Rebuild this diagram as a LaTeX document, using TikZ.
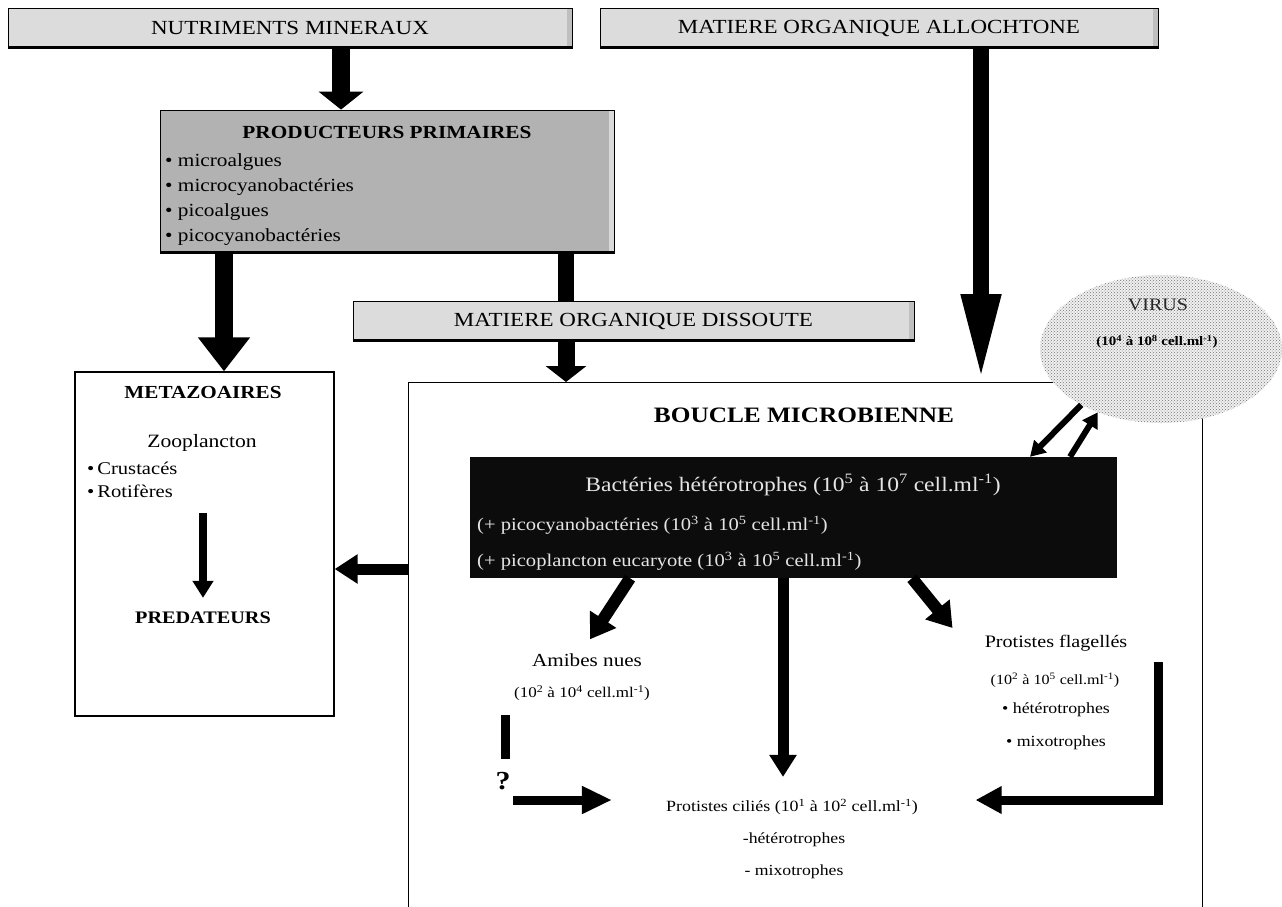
\documentclass[tikz,border=0pt]{standalone}
\usepackage{fontspec}
\setmainfont{Liberation Serif}[FakeStretch=1.15]
\usetikzlibrary{arrows.meta,shapes.geometric,patterns}
\definecolor{hdrgray}{RGB}{220,220,220}
\definecolor{ppgray}{RGB}{178,178,178}
\definecolor{bactbg}{RGB}{12,12,12}
\definecolor{bacttxt}{RGB}{228,228,228}
\newcommand{\fsz}[1]{\fontsize{#1}{#1}\selectfont}
\newcommand{\supr}[1]{\textsuperscript{#1}}
\begin{document}
\begin{tikzpicture}[x=1pt,y=-1pt,
  boxbase/.style={draw=black, line width=0.8pt, inner sep=0pt,
    path picture={\fill[#1] ([xshift=-5pt]path picture bounding box.north east) rectangle (path picture bounding box.south east);
      \draw[line width=4pt] (path picture bounding box.south west) -- (path picture bounding box.south east);}},
  hdr/.style={boxbase=gray!50, fill=hdrgray, font=\fsz{20}},
  ppbox/.style={boxbase=gray!30, fill=ppgray},
  plainbox/.style={draw=black, line width=1.3pt, fill=white, inner sep=0pt},
  item/.style={anchor=west, inner sep=0pt, font=\fsz{18.5}},
  lbl/.style={inner sep=0pt},
  btxt/.style={inner sep=0pt, text=bacttxt},
  arr/.style n args={3}{draw=black, line width=#1, -{Triangle[width=#2,length=#3]}}
]
\useasboundingbox (0,0) rectangle (1282,906);
\fill[white] (0,0) rectangle (1282,906);

% top boxes
\node[hdr, minimum width=564pt, minimum height=40pt] (nutri) at (290,28) {NUTRIMENTS MINERAUX};
\node[hdr, minimum width=558pt, minimum height=40pt] (moa) at (879,28) {MATIERE ORGANIQUE ALLOCHTONE};

% producteurs primaires
\node[ppbox, minimum width=454pt, minimum height=143pt] (pp) at (387,181.5) {};
\node[lbl, font=\bfseries\fsz{18.5}] (pptitle) at (387,132) {PRODUCTEURS PRIMAIRES};
\node[item] (pp1) at (165,162) {\textbullet\ microalgues};
\node[item] (pp2) at (165,187) {\textbullet\ microcyanobactéries};
\node[item] (pp3) at (165,212) {\textbullet\ picoalgues};
\node[item] (pp4) at (165,237) {\textbullet\ picocyanobactéries};

% MOD
\node[hdr, minimum width=561pt, minimum height=40pt] (mod) at (633.5,321) {MATIERE ORGANIQUE DISSOUTE};

% metazoaires
\node[plainbox, minimum width=259pt, minimum height=344pt] (metaz) at (204.5,544) {};
\node[lbl, font=\bfseries\fsz{18.4}] (mztitle) at (203,392) {METAZOAIRES};
\node[lbl, font=\fsz{18.8}] (zoo) at (202,443) {Zooplancton};
\node[item, font=\fsz{17.9}] (crus) at (87,468) {\textbullet\,Crustacés};
\node[item, font=\fsz{17.9}] (rot) at (87,491) {\textbullet\,Rotifères};
\node[lbl, font=\bfseries\fsz{17.6}] (pred) at (203,618) {PREDATEURS};

% boucle microbienne
\node[plainbox, anchor=north west, minimum width=794pt, minimum height=540pt] (boucle) at (408,382) {};
\node[lbl, font=\bfseries\fsz{22}] (bmtitle) at (804,415) {BOUCLE MICROBIENNE};

% virus
\node[ellipse, minimum width=242pt, minimum height=148pt, fill=gray!12,
      postaction={pattern=crosshatch dots, pattern color=black!55}] (virus) at (1161,349) {};
\node[lbl, font=\fsz{17.4}, text=black!85] (vt) at (1158,305) {VIRUS};
\node[lbl, font=\bfseries\fsz{13}] (vc) at (1157,342) {(10\supr{4} à 10\supr{8} cell.ml\supr{-1})};

% bacteries
\node[fill=bactbg, minimum width=647pt, minimum height=121pt, inner sep=0pt] (bact) at (793.5,517.5) {};
\node[btxt, font=\fsz{20.5}] (bt1) at (793,485) {Bactéries hétérotrophes (10\supr{5} à 10\supr{7} cell.ml\supr{-1})};
\node[btxt, anchor=west, font=\fsz{17.9}] (bt2) at (477,525) {(+ picocyanobactéries (10\supr{3} à 10\supr{5} cell.ml\supr{-1})};
\node[btxt, anchor=west, font=\fsz{17.9}] (bt3) at (477,561) {(+ picoplancton eucaryote (10\supr{3} à 10\supr{5} cell.ml\supr{-1})};

% amibes
\node[lbl, font=\fsz{18.4}] (am) at (587,660) {Amibes nues};
\node[lbl, font=\fsz{14.8}] (amc) at (582,693) {(10\supr{2} à 10\supr{4} cell.ml\supr{-1})};

% flagelles
\node[lbl, font=\fsz{17.5}] (fl) at (1056,643) {Protistes flagellés};
\node[lbl, font=\fsz{14}] (flc) at (1055,680) {(10\supr{2} à 10\supr{5} cell.ml\supr{-1})};
\node[lbl, font=\fsz{15.5}] (flh) at (1056,710) {\textbullet\ hétérotrophes};
\node[lbl, font=\fsz{15.5}] (flm) at (1056,743) {\textbullet\ mixotrophes};

% cilies
\node[lbl, font=\fsz{15.6}] (ci) at (792,807) {Protistes ciliés (10\supr{1} à 10\supr{2} cell.ml\supr{-1})};
\node[lbl, font=\fsz{15.4}] (cih) at (794,840) {-hétérotrophes};
\node[lbl, font=\fsz{15.4}] (cim) at (794,872) {- mixotrophes};

% question mark
\node[lbl, font=\bfseries\fsz{26}] (q) at (503,781) {?};

% coordinates for free ends
\coordinate (qa) at (505,715);
\coordinate (qh) at (513,800);
\coordinate (fc) at (1158,662);
\coordinate (b3) at ([xshift=-10.5pt]bact.south);

% arrows
\draw[arr={18pt}{44pt}{18pt}] ([xshift=51pt]nutri.south) -- ([xshift=-46pt]pp.north);
\draw[arr={18pt}{50pt}{34pt}] ([xshift=-163pt]pp.south) -- ([xshift=19.5pt]metaz.north);
\draw[line width=16pt] ([xshift=179pt]pp.south) -- ([xshift=-67.5pt]mod.north);
\draw[arr={17pt}{40pt}{16pt}] ([xshift=-67.5pt]mod.south) -- ([xshift=158pt]boucle.north west);
\draw[arr={16pt}{36pt}{88pt}] ([xshift=102pt]moa.south) -- ([xshift=573pt]boucle.north west);
\draw[arr={11pt}{28pt}{23pt}] ([yshift=-187pt]boucle.north west) -- ([yshift=-25pt]metaz.east);
\draw[arr={8pt}{20pt}{17pt}, shorten <=15pt, shorten >=14pt] (rot.south -| pred.north) -- (pred.north);

\draw[arr={12pt}{30pt}{24pt}] ([xshift=-163.5pt]bact.south) -- ([shift={(3pt,14pt)}]am.north);
\draw[arr={11pt}{26pt}{22pt}, shorten >=22pt] (b3) -- (b3 |- ci.north);
\draw[arr={12pt}{30pt}{24pt}] ([xshift=118.5pt]bact.south) -- ([shift={(-32pt,15pt)}]fl.west);
\draw[arr={9pt}{26pt}{26pt}] (fc) |- ([shift={(57.5pt,7pt)}]ci.east);

\draw[line width=9pt, shorten >=13pt] (qa) -- (qa |- q.north);
\draw[arr={9pt}{26pt}{30pt}, shorten >=54pt] (qh) -- (qh -| ci.west);

\draw[arr={6pt}{17pt}{15pt}] (virus.215) -- ([xshift=236.5pt]bact.north);
\draw[arr={6pt}{17pt}{15pt}] ([xshift=276.5pt]bact.north) -- (virus.225);
\end{tikzpicture}
\end{document}
